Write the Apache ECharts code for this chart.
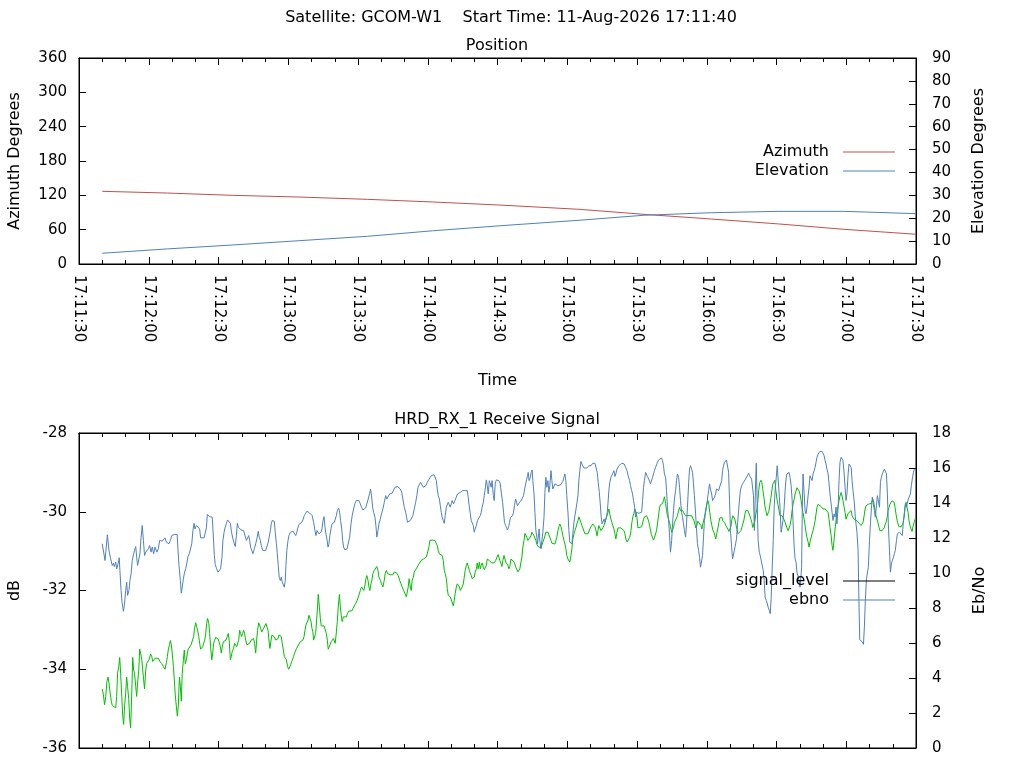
<!DOCTYPE html>
<html><head><meta charset="utf-8">
<script src="https://cdn.jsdelivr.net/npm/echarts/dist/echarts.min.js"></script>
<style>html,body{margin:0;padding:0;background:#fff}#c{width:1024px;height:768px}</style>
</head><body><div id="c"></div>
<script>
// ---------------- data ----------------
const mainTitle = 'Satellite: GCOM-W1    Start Time: 11-Aug-2026 17:11:40';
const posTitle = 'Position';
const sigTitle = 'HRD_RX_1 Receive Signal';
const axisStart = '17:11:30';
const axisEnd = '17:17:30';

const posTimes = ['17:11:40','17:12:08','17:12:36','17:13:05','17:13:34','17:14:02','17:14:31','17:15:05','17:15:33','17:16:02','17:16:31','17:16:59','17:17:30'];
const azimuth = [127,124,120,117,113,108.4,103,95.6,86.8,78.6,70,60.6,52];
const elevation = [4.7,6.6,8.3,10.2,12.1,14.5,16.7,19.1,21.3,22.4,23.0,23.0,22.0];

// [seconds after 17:11:30, dB]
const signalLevel = [
[10.0,-34.50],[10.5,-34.65],[11.0,-34.90],[11.5,-34.69],[12.0,-34.31],[12.5,-34.20],[12.9,-34.35],[13.5,-34.65],[13.9,-34.81],[14.3,-34.92],[15.1,-34.92],[15.8,-34.98],[16.2,-34.69],[16.6,-34.10],[17.1,-33.93],[17.5,-33.70],[17.9,-34.10],[18.4,-34.69],[18.8,-35.18],[19.2,-35.40],[19.6,-34.94],[20.1,-34.60],[20.5,-34.20],[20.9,-34.44],[21.4,-34.77],[21.8,-35.24],[22.2,-35.49],[22.7,-34.60],[23.1,-33.70],[23.5,-34.02],[23.9,-34.10],[24.4,-34.44],[24.8,-34.69],[25.2,-34.35],[25.7,-34.02],[26.1,-33.49],[26.5,-33.59],[27.0,-33.76],[27.4,-34.02],[27.8,-34.27],[28.2,-34.50],[28.7,-34.02],[29.1,-33.85],[29.5,-33.80],[30.1,-33.76],[30.8,-33.61],[31.3,-33.68],[31.7,-33.80],[32.1,-33.76],[32.7,-33.72],[33.4,-33.70],[34.1,-33.72],[34.8,-33.80],[35.6,-33.86],[36.3,-33.93],[37.0,-34.00],[37.6,-33.83],[38.0,-33.68],[38.4,-33.51],[38.9,-33.38],[39.3,-33.27],[39.7,-33.38],[40.1,-33.59],[40.6,-33.93],[41.0,-34.27],[41.4,-34.65],[41.9,-34.96],[42.3,-35.19],[42.7,-34.94],[43.2,-34.20],[43.6,-34.44],[44.0,-34.81],[44.4,-34.10],[44.9,-33.76],[45.3,-33.51],[45.7,-33.86],[46.2,-33.76],[46.6,-33.59],[47.0,-33.49],[47.6,-33.44],[48.2,-33.38],[48.7,-33.34],[49.3,-33.17],[49.7,-32.96],[50.2,-32.82],[50.6,-32.92],[51.0,-33.01],[51.5,-33.17],[51.9,-33.34],[52.3,-33.49],[52.8,-33.49],[53.2,-33.43],[53.6,-33.34],[54.1,-33.26],[54.5,-33.09],[54.9,-32.84],[55.3,-32.71],[55.8,-32.82],[56.2,-33.09],[56.6,-33.43],[57.1,-33.76],[57.5,-33.59],[57.9,-33.34],[58.4,-33.26],[58.8,-33.19],[59.4,-33.19],[59.9,-33.24],
[60.2,-33.30],[60.8,-33.43],[61.2,-33.59],[61.6,-33.43],[62.1,-33.30],[62.6,-33.30],[63.2,-33.26],[63.8,-33.17],[64.2,-33.09],[64.6,-33.26],[65.1,-33.76],[65.5,-33.68],[65.9,-33.55],[66.5,-33.47],[66.9,-33.34],[67.4,-33.30],[67.8,-33.43],[68.2,-33.47],[68.7,-33.26],[69.1,-33.01],[69.5,-33.09],[69.9,-33.17],[70.4,-33.09],[70.8,-33.01],[71.2,-33.09],[71.7,-33.26],[72.2,-33.38],[72.8,-33.38],[73.4,-33.34],[74.0,-33.26],[74.5,-33.22],[75.1,-33.22],[75.5,-33.34],[76.0,-33.59],[76.4,-33.26],[76.8,-33.01],[77.3,-32.82],[77.7,-32.88],[78.1,-32.96],[78.6,-33.05],[79.0,-33.09],[79.4,-32.96],[79.8,-32.92],[80.4,-32.84],[80.8,-32.88],[81.3,-33.01],[81.7,-33.26],[82.1,-33.47],[82.6,-33.26],[83.0,-33.13],[83.4,-33.09],[83.9,-33.17],[84.3,-33.22],[84.7,-33.26],[85.1,-33.30],[85.6,-33.22],[86.0,-33.13],[86.6,-33.09],[87.0,-33.17],[87.4,-33.34],[87.9,-33.51],[88.3,-33.68],[88.7,-33.72],[89.2,-33.76],[89.7,-33.93],[90.2,-34.00],[90.6,-33.95],[91.0,-33.89],[91.5,-33.80],[91.9,-33.76],[92.3,-33.68],[92.7,-33.59],[93.2,-33.55],[93.6,-33.47],[94.0,-33.43],[94.6,-33.36],[95.2,-33.30],[95.8,-33.30],[96.3,-33.26],[96.8,-33.17],[97.2,-33.01],[97.6,-32.88],[98.0,-32.84],[98.5,-32.75],[98.9,-32.63],[99.3,-32.67],[99.8,-32.79],[100.2,-32.96],[100.6,-33.05],[100.9,-33.26],[101.3,-33.30],[101.8,-33.09],[102.2,-32.75],[102.6,-32.42],[102.9,-32.10],[103.4,-32.42],[103.8,-32.71],[104.2,-32.90],[104.8,-32.90],[105.4,-32.90],[105.9,-32.92],[106.4,-33.09],[106.8,-33.26],[107.2,-33.49],[107.7,-33.49],[108.1,-33.36],[108.5,-33.30],[108.9,-33.26],[109.4,-33.22],[109.8,-33.26],[110.2,-33.34],[110.7,-33.05],[111.1,-32.79],[111.5,-32.42],[112.0,-32.10],[112.4,-32.42],[112.8,-32.63],[113.2,-32.79],[113.7,-32.67],[114.1,-32.63],[114.5,-32.67],[115.0,-32.67],[115.5,-32.58],[116.1,-32.52],[116.7,-32.52],[117.3,-32.52],[117.8,-32.46],[118.4,-32.42],[119.0,-32.33],[119.6,-32.26],[120.1,-32.26],
[120.4,-32.21],[121.0,-32.00],[121.5,-31.91],[122.1,-31.89],[122.5,-32.00],[123.0,-31.87],[123.4,-31.70],[123.8,-31.62],[124.3,-31.74],[124.7,-31.91],[125.1,-32.00],[125.6,-31.83],[126.0,-31.74],[126.4,-31.57],[127.0,-31.49],[127.6,-31.45],[128.1,-31.39],[128.6,-31.49],[129.0,-31.66],[129.6,-31.74],[130.1,-31.83],[130.7,-31.91],[131.3,-31.74],[131.7,-31.57],[132.2,-31.49],[132.7,-31.57],[133.3,-31.62],[133.9,-31.60],[134.5,-31.62],[135.0,-31.60],[135.6,-31.53],[136.2,-31.51],[136.7,-31.56],[137.3,-31.62],[137.9,-31.74],[138.5,-31.83],[139.0,-31.91],[139.6,-32.00],[140.2,-32.08],[140.8,-32.16],[141.2,-32.21],[141.6,-31.91],[142.0,-31.70],[142.5,-31.91],[142.9,-32.00],[143.3,-31.74],[143.8,-31.66],[144.2,-31.53],[144.8,-31.47],[145.3,-31.45],[145.9,-31.36],[146.5,-31.32],[147.1,-31.24],[147.6,-31.20],[148.2,-31.20],[148.8,-31.17],[149.4,-31.15],[149.9,-31.11],[150.5,-30.90],[150.9,-30.73],[151.4,-30.72],[152.0,-30.72],[152.5,-30.72],[153.1,-30.73],[153.7,-30.77],[154.1,-30.86],[154.5,-30.98],[155.0,-31.07],[155.4,-31.09],[155.8,-31.11],[156.2,-31.11],[156.7,-31.24],[157.1,-31.49],[157.5,-31.57],[158.0,-31.70],[158.4,-31.95],[158.8,-32.12],[159.3,-32.16],[159.7,-32.16],[160.1,-32.21],[160.5,-32.16],[161.0,-32.39],[161.4,-32.25],[161.8,-32.08],[162.3,-31.91],[162.7,-31.83],[163.1,-31.81],[163.6,-31.91],[164.0,-32.00],[164.4,-31.95],[164.8,-31.91],[165.3,-31.83],[165.7,-31.66],[166.1,-31.49],[166.6,-31.36],[167.0,-31.30],[167.4,-31.39],[167.9,-31.49],[168.3,-31.56],[168.7,-31.62],[169.1,-31.70],[169.6,-31.70],[170.0,-31.66],[170.4,-31.53],[170.9,-31.45],[171.3,-31.30],[171.7,-31.45],[172.2,-31.28],[172.6,-31.45],[173.0,-31.36],[173.4,-31.30],[173.9,-31.41],[174.3,-31.47],[174.7,-31.49],[175.2,-31.36],[175.6,-31.20],[176.0,-31.20],[176.5,-31.24],[176.9,-31.28],[177.5,-31.30],[178.0,-31.30],[178.6,-31.30],[179.2,-31.24],[179.8,-31.15],[180.3,-31.09],
[180.6,-31.14],[181.0,-31.24],[181.5,-31.32],[181.9,-31.39],[182.3,-31.24],[182.8,-31.11],[183.2,-31.20],[183.6,-31.28],[184.0,-31.32],[184.5,-31.36],[184.9,-31.45],[185.3,-31.39],[185.8,-31.20],[186.2,-31.20],[186.6,-31.24],[187.1,-31.28],[187.5,-31.34],[187.9,-31.41],[188.3,-31.45],[188.8,-31.53],[189.2,-31.57],[189.6,-31.45],[190.1,-31.28],[190.5,-31.15],[190.9,-30.90],[191.4,-30.73],[191.8,-30.55],[192.2,-30.52],[192.6,-30.65],[193.1,-30.73],[193.5,-30.77],[193.9,-30.69],[194.4,-30.61],[194.8,-30.52],[195.2,-30.55],[195.7,-30.61],[196.1,-30.65],[196.5,-30.73],[196.9,-30.82],[197.4,-30.88],[197.8,-30.90],[198.2,-30.92],[198.7,-30.92],[199.1,-30.88],[199.5,-30.77],[200.0,-30.69],[200.4,-30.61],[200.8,-30.52],[201.2,-30.51],[201.7,-30.52],[202.1,-30.56],[202.5,-30.65],[203.0,-30.73],[203.4,-30.80],[203.8,-30.82],[204.7,-30.82],[205.1,-30.77],[205.5,-30.65],[206.0,-30.48],[206.4,-30.38],[206.8,-30.31],[207.3,-30.38],[207.7,-30.48],[208.1,-30.61],[208.6,-30.73],[209.0,-30.82],[209.4,-30.94],[209.8,-31.11],[210.3,-31.20],[210.7,-31.25],[211.1,-31.28],[211.6,-31.11],[212.0,-30.94],[212.4,-30.69],[212.9,-30.56],[213.3,-30.48],[213.7,-30.41],[214.1,-30.31],[214.6,-30.23],[215.0,-30.13],[215.4,-30.14],[215.9,-30.27],[216.3,-30.35],[216.7,-30.41],[217.2,-30.46],[217.6,-30.56],[218.0,-30.61],[218.4,-30.61],[218.9,-30.56],[219.3,-30.52],[219.7,-30.44],[220.2,-30.38],[220.6,-30.35],[221.0,-30.31],[221.5,-30.33],[221.9,-30.38],[222.3,-30.46],[222.8,-30.61],[223.2,-30.48],[223.6,-30.35],[224.0,-30.40],[224.5,-30.48],[224.9,-30.46],[225.3,-30.41],[225.8,-30.35],[226.2,-30.27],[226.6,-30.19],[227.1,-30.10],[227.5,-30.02],[227.9,-29.93],[228.3,-30.06],[228.8,-30.19],[229.2,-30.27],[229.6,-30.35],[230.1,-30.44],[230.5,-30.56],[230.9,-30.69],[231.4,-30.52],[231.8,-30.41],[232.2,-30.40],[233.1,-30.41],[233.9,-30.44],[234.4,-30.48],[234.8,-30.56],[235.2,-30.69],[235.7,-30.77],[236.1,-30.82],[236.5,-30.73],[236.9,-30.65],[237.4,-30.48],[237.8,-30.27],[238.2,-30.13],[238.7,-30.04],[239.1,-29.93],[239.5,-30.02],[240.0,-30.14],[240.4,-30.41],[240.8,-30.41],
[242.0,-30.38],[242.4,-30.29],[242.8,-30.19],[243.2,-30.13],[244.1,-30.10],[244.5,-30.14],[245.0,-30.23],[245.4,-30.35],[245.8,-30.46],[246.2,-30.58],[246.7,-30.66],[247.1,-30.72],[247.5,-30.66],[248.0,-30.61],[248.4,-30.48],[248.8,-30.31],[249.3,-30.08],[249.7,-29.89],[250.1,-29.82],[250.5,-29.85],[251.0,-29.79],[251.4,-29.71],[251.8,-29.62],[252.3,-29.79],[252.7,-29.97],[253.1,-30.10],[253.6,-30.19],[254.0,-30.27],[254.4,-30.38],[254.9,-30.52],[255.3,-30.48],[255.7,-30.40],[256.1,-30.27],[256.6,-30.23],[257.0,-30.16],[257.4,-30.10],[257.9,-29.97],[258.3,-29.89],[258.7,-29.97],[259.2,-29.93],[259.6,-29.96],[260.0,-30.02],[260.4,-30.04],[260.9,-30.10],[263.5,-30.10],[264.0,-30.13],[264.5,-30.23],[264.9,-30.31],[265.3,-30.41],[265.7,-30.35],[266.2,-30.24],[266.6,-30.19],[267.0,-30.27],[267.5,-30.35],[267.9,-30.44],[268.3,-30.31],[268.8,-30.19],[269.2,-30.08],[269.6,-29.93],[270.0,-29.81],[270.5,-29.72],[270.9,-29.81],[271.3,-30.02],[271.8,-30.23],[272.2,-30.35],[272.6,-30.46],[273.1,-30.52],[273.5,-30.61],[273.9,-30.69],[274.3,-30.56],[274.8,-30.41],[275.2,-30.27],[275.6,-30.16],[276.1,-30.13],[276.5,-30.14],[276.9,-30.23],[277.4,-30.27],[277.8,-30.29],[278.2,-30.35],[278.6,-30.40],[279.1,-30.44],[279.5,-30.50],[279.9,-30.48],[280.4,-30.38],[280.8,-30.19],[281.2,-30.10],[281.7,-30.13],[282.1,-30.19],[282.5,-30.31],[283.0,-30.44],[283.4,-30.56],[283.8,-30.61],[284.2,-30.56],[284.7,-30.48],[285.1,-30.40],[285.5,-30.31],[286.0,-30.21],[286.4,-30.06],[286.8,-29.97],[287.3,-29.93],[287.7,-29.97],[288.1,-30.02],[288.5,-30.10],[289.0,-30.19],[289.4,-30.27],[289.8,-30.40],[290.3,-30.44],[290.7,-30.23],[291.1,-30.06],[291.6,-29.93],[292.0,-29.72],[292.4,-29.43],[292.8,-29.26],[293.3,-29.20],[293.7,-29.26],[294.1,-29.43],[294.6,-29.64],[295.0,-29.85],[295.4,-29.97],[295.9,-30.10],[296.3,-30.08],[296.7,-29.99],[297.1,-29.85],[297.6,-29.64],[298.0,-29.47],[298.4,-29.30],[298.9,-29.26],[299.3,-29.20],[299.7,-29.45],[300.2,-29.68],[300.6,-29.81],[301.0,-29.93],
[301.5,-30.10],[302.4,-30.10],[302.8,-30.14],[303.3,-30.21],[303.7,-30.27],[304.1,-30.31],[304.5,-30.41],[305.0,-30.48],[305.4,-30.44],[305.8,-30.35],[306.3,-30.19],[306.7,-29.97],[307.1,-29.81],[307.6,-29.68],[308.0,-29.55],[308.4,-29.47],[308.8,-29.39],[309.3,-29.43],[309.7,-29.47],[310.1,-29.55],[310.6,-29.72],[311.0,-29.89],[311.4,-30.02],[311.9,-30.19],[312.3,-30.35],[312.7,-30.52],[313.1,-30.65],[313.6,-30.77],[314.0,-30.90],[314.4,-30.77],[314.9,-30.65],[315.3,-30.56],[315.7,-30.48],[316.2,-30.35],[316.6,-30.23],[317.0,-30.06],[317.4,-29.89],[317.9,-29.81],[318.3,-29.81],[318.7,-29.85],[319.2,-29.87],[319.6,-29.89],[320.0,-29.93],[320.5,-29.97],[320.9,-29.93],[321.3,-29.89],[321.7,-29.93],[322.2,-30.02],[322.6,-30.19],[323.0,-30.40],[323.5,-30.61],[323.9,-30.86],[324.3,-30.98],[324.8,-30.69],[325.2,-30.44],[325.6,-30.23],[326.0,-30.02],[326.5,-29.85],[326.9,-29.72],[327.3,-29.60],[327.8,-29.51],[328.2,-29.60],[328.6,-29.72],[329.1,-29.89],[329.5,-30.02],[329.9,-30.19],[330.3,-30.14],[330.8,-30.04],[331.2,-30.02],[331.6,-29.99],[332.1,-29.97],[332.5,-30.10],[332.9,-30.06],[333.4,-30.19],[333.8,-30.23],[334.6,-30.23],[335.1,-30.27],[335.5,-30.29],[335.9,-30.33],[336.4,-30.35],[336.8,-30.35],[337.2,-30.27],[337.7,-30.10],[338.1,-29.93],[338.5,-29.85],[338.9,-29.81],[339.4,-29.81],[339.8,-29.85],[340.2,-29.82],[340.7,-29.79],[341.1,-29.74],[341.5,-29.68],[342.0,-29.81],[342.4,-29.97],[342.8,-30.10],[343.3,-30.21],[343.7,-30.29],[344.1,-30.40],[344.5,-30.48],[345.0,-30.50],[345.4,-30.48],[345.8,-30.46],[346.3,-30.41],[346.7,-30.33],[347.1,-30.27],[347.6,-30.14],[348.0,-29.97],[348.4,-29.89],[348.8,-29.81],[349.3,-29.76],[349.7,-29.72],[350.1,-29.71],[350.6,-29.76],[351.0,-29.89],[351.4,-30.06],[351.9,-30.23],[352.3,-30.31],[352.7,-30.38],[353.6,-30.38],[354.0,-30.35],[354.4,-30.29],[354.9,-30.14],[355.3,-29.89],[355.7,-29.76],[356.2,-29.79],[356.6,-30.02],[357.0,-30.23],[357.4,-30.35],[357.9,-30.44],[358.3,-30.50],[358.7,-30.38],[359.2,-30.27],[359.6,-30.19],[360.0,-30.16]
];

// [seconds after 17:11:30, Eb/No]
const ebno = [
[10.0,11.67],[11.2,10.71],[12.2,12.18],[12.9,11.29],[13.6,10.81],[14.3,10.43],[14.8,10.56],[15.2,10.37],[15.8,10.62],[16.2,10.24],[16.8,10.52],[17.3,10.87],[17.6,10.14],[18.1,9.00],[18.5,8.34],[19.1,7.81],[19.5,8.15],[20.1,9.00],[20.5,9.48],[20.9,8.72],[21.5,9.00],[21.9,9.57],[22.4,9.95],[22.9,10.71],[23.5,11.10],[23.9,11.29],[24.4,11.51],[24.8,10.90],[25.2,10.43],[25.8,10.43],[26.2,11.10],[26.7,12.05],[27.2,12.71],[27.7,11.86],[28.2,11.00],[28.7,11.19],[29.2,11.29],[29.8,11.38],[30.4,11.57],[31.0,11.19],[31.5,11.48],[32.1,11.10],[32.7,11.48],[33.1,11.57],[33.5,11.19],[34.1,11.38],[34.7,11.86],[35.3,11.89],[35.8,11.82],[36.4,11.86],[37.0,12.01],[37.6,11.76],[38.1,11.67],[38.7,11.67],[39.3,11.86],[39.9,12.14],[40.4,12.24],[41.0,12.20],[41.6,12.27],[42.2,12.20],[42.6,11.29],[43.0,10.43],[43.6,9.57],[44.0,8.85],[44.4,9.19],[44.9,9.67],[45.4,10.05],[45.9,10.24],[46.3,10.52],[46.9,10.94],[47.5,11.13],[48.0,11.19],[48.5,11.67],[49.0,12.43],[49.5,12.84],[49.9,12.52],[50.5,12.71],[50.9,12.62],[51.3,12.81],[51.9,12.52],[52.3,12.01],[53.0,12.01],[53.8,12.01],[54.3,12.05],[54.8,12.58],[55.2,13.34],[55.6,13.38],[56.2,13.22],[56.8,13.19],[57.3,13.19],[57.8,12.05],[58.2,11.00],[58.6,10.49],[59.2,10.24],[59.8,10.05],
[60.2,9.95],[60.9,10.24],[61.5,10.90],[61.9,11.86],[62.4,12.33],[62.8,12.58],[63.4,12.84],[63.9,13.03],[64.5,13.03],[65.1,12.84],[65.6,12.33],[66.2,11.95],[66.8,11.67],[67.2,11.51],[67.7,12.14],[68.1,12.84],[68.5,12.62],[69.1,12.52],[69.7,12.46],[70.2,12.46],[70.8,12.43],[71.4,12.33],[72.0,11.86],[72.5,11.95],[73.0,12.14],[73.4,11.86],[73.8,11.48],[74.3,11.29],[74.8,11.10],[75.4,11.38],[76.0,11.67],[76.5,11.95],[77.1,12.39],[77.5,12.05],[78.0,11.86],[78.4,11.57],[79.0,11.29],[79.6,11.29],[80.3,11.29],[81.0,11.29],[81.4,11.76],[81.8,12.05],[82.3,12.43],[82.7,12.81],[83.1,13.00],[83.6,13.03],[84.0,12.96],[84.4,12.33],[84.9,11.67],[85.3,11.10],[85.7,10.43],[86.1,9.76],[86.6,9.57],[87.0,9.76],[87.4,9.48],[87.9,9.57],[88.3,9.19],[88.7,9.57],[89.0,10.43],[89.4,11.29],[89.9,11.86],[90.3,12.14],[90.9,12.33],[91.5,12.43],[92.0,12.39],[92.6,12.33],[93.2,12.14],[93.6,12.27],[94.0,12.52],[94.6,12.77],[95.2,12.86],[95.8,12.90],[96.3,13.03],[96.9,13.28],[97.5,13.41],[98.0,13.53],[98.6,13.43],[99.2,13.43],[99.8,13.41],[100.3,13.28],[100.9,12.90],[101.5,12.43],[101.9,12.14],[102.4,12.43],[102.8,12.46],[103.2,12.24],[103.6,12.18],[104.1,12.33],[104.5,12.52],[104.9,12.96],[105.4,13.22],[105.8,12.62],[106.2,12.24],[106.7,11.89],[107.1,11.48],[107.5,11.67],[107.9,12.14],[108.4,12.52],[108.8,12.81],[109.2,12.84],[109.8,12.90],[110.2,13.00],[110.7,13.28],[111.1,13.57],[111.7,13.70],[112.1,13.47],[112.5,13.00],[113.0,12.52],[113.4,11.86],[113.8,11.48],[114.4,11.32],[114.8,11.29],[115.3,11.38],[115.8,11.48],[116.4,12.05],[117.0,12.81],[117.5,13.28],[118.1,13.66],[118.7,13.98],[119.3,14.14],[119.8,14.17],
[120.4,14.14],[121.0,13.95],[121.5,13.76],[122.1,13.60],[122.7,13.60],[123.3,13.72],[123.8,13.95],[124.4,14.23],[125.0,14.56],[125.4,14.80],[125.8,14.42],[126.3,13.76],[126.7,13.47],[127.3,13.19],[127.7,12.71],[128.1,12.05],[128.6,12.43],[129.0,12.81],[129.6,13.09],[130.1,13.38],[130.7,13.66],[131.3,14.04],[131.9,14.42],[132.4,14.23],[133.0,14.33],[133.6,14.52],[134.2,14.61],[134.7,14.56],[135.3,14.61],[135.9,14.90],[136.5,14.94],[137.0,14.94],[137.6,14.90],[138.2,14.80],[138.8,14.61],[139.3,14.23],[139.9,13.76],[140.5,13.47],[140.9,13.19],[141.3,12.90],[141.9,12.94],[142.5,13.00],[143.1,13.00],[143.6,13.28],[144.2,13.66],[144.8,14.04],[145.3,14.42],[145.8,14.90],[146.3,14.99],[146.9,15.18],[147.5,15.09],[148.1,14.90],[148.6,14.90],[149.2,14.99],[149.8,15.18],[150.4,15.32],[150.9,15.37],[151.5,15.56],[152.1,15.66],[152.7,15.62],[153.2,15.62],[153.7,15.28],[154.1,14.80],[154.5,14.42],[155.0,14.23],[155.4,13.85],[155.8,13.47],[156.2,13.19],[156.7,13.00],[157.1,12.84],[157.5,13.28],[158.0,13.76],[158.4,13.85],[158.8,14.04],[159.3,13.95],[159.7,13.76],[160.1,13.95],[160.5,14.14],[161.1,13.95],[161.7,14.14],[162.3,14.23],[162.8,14.52],[163.4,14.61],[164.0,14.61],[164.6,14.71],[165.1,14.71],[165.6,14.80],[166.1,14.71],[166.6,14.61],[167.0,14.71],[167.4,14.33],[167.9,13.76],[168.3,13.38],[168.7,13.00],[169.1,12.94],[169.6,12.71],[170.0,12.33],[170.4,12.52],[170.9,12.71],[171.4,13.00],[172.0,13.00],[172.6,13.28],[173.0,13.47],[173.4,13.76],[173.9,14.04],[174.3,14.42],[174.7,14.80],[175.2,15.32],[175.6,14.99],[176.0,14.52],[176.5,15.28],[176.9,15.24],[177.3,14.90],[177.7,15.28],[178.2,14.42],[178.6,14.14],[179.0,15.09],[179.5,15.32],[180.0,15.32],
[180.6,15.28],[181.2,15.09],[181.7,14.52],[182.2,14.04],[182.6,13.47],[183.0,12.90],[183.5,12.71],[183.9,12.58],[184.3,12.46],[184.8,12.65],[185.2,12.90],[185.6,13.19],[186.1,13.28],[186.5,13.28],[186.9,13.47],[187.3,13.85],[187.8,14.23],[188.2,14.04],[188.6,13.85],[189.1,13.95],[189.5,14.04],[189.9,14.10],[190.3,14.17],[190.8,14.23],[191.2,14.42],[191.6,14.75],[192.1,15.09],[192.5,15.32],[192.9,15.56],[193.2,15.75],[193.6,15.28],[194.1,15.47],[194.5,15.75],[194.9,15.89],[195.2,15.28],[195.7,14.52],[196.1,13.47],[196.5,12.43],[196.9,12.05],[197.2,11.67],[197.7,12.24],[197.9,12.52],[198.2,11.86],[198.7,11.38],[199.1,11.48],[199.5,12.33],[200.0,13.19],[200.4,14.61],[200.8,15.47],[201.2,14.90],[201.7,15.28],[202.1,14.61],[202.5,14.99],[203.0,15.85],[203.4,15.28],[203.8,14.80],[204.3,14.90],[204.7,15.09],[205.1,15.09],[205.5,15.09],[206.0,14.99],[206.4,14.90],[206.8,14.99],[207.3,15.05],[207.7,15.09],[208.1,15.24],[208.6,15.47],[209.0,15.66],[209.4,15.28],[209.8,14.42],[210.3,13.47],[210.7,12.43],[211.1,11.76],[211.6,11.67],[212.0,11.67],[212.4,12.24],[212.9,12.90],[213.3,13.28],[213.7,13.60],[214.1,13.95],[214.6,14.42],[215.0,15.28],[215.4,15.85],[215.9,16.38],[216.3,16.23],[216.7,16.13],[217.2,16.00],[217.6,15.94],[218.0,15.89],[218.4,16.00],[218.9,16.08],[219.3,16.13],[220.2,16.13],[221.0,16.27],[221.9,16.27],[222.5,16.23],[222.9,15.75],[223.3,15.18],[223.8,14.61],[224.2,13.95],[224.6,13.19],[225.0,12.81],[225.5,12.71],[225.9,13.09],[226.3,12.90],[226.8,13.19],[227.2,13.47],[227.5,13.95],[227.9,14.71],[228.3,15.18],[228.8,15.47],[229.2,15.56],[229.6,15.70],[230.1,15.85],[230.5,15.51],[230.9,15.66],[231.4,15.94],[231.8,16.04],[232.2,16.13],[232.8,16.23],[233.4,16.27],[233.9,16.27],[234.5,16.23],[235.1,16.04],[235.7,15.85],[236.2,15.56],[236.8,15.28],[237.2,14.99],[237.7,14.71],[238.1,14.52],[238.5,14.14],[239.0,13.76],[239.4,13.19],[239.8,13.47],[240.2,13.47],[240.8,13.41],
[241.4,13.34],[242.0,13.47],[242.4,14.14],[242.8,14.90],[243.2,15.28],[243.7,15.75],[244.1,15.66],[244.5,15.51],[245.0,15.37],[245.4,15.24],[245.8,15.09],[246.2,15.18],[246.7,15.47],[247.1,15.66],[247.5,15.85],[248.0,16.04],[248.4,16.13],[248.8,16.32],[249.3,16.46],[249.7,16.57],[250.5,16.57],[251.0,16.42],[251.4,16.13],[251.8,15.66],[252.3,15.47],[252.7,14.71],[253.1,13.76],[253.6,13.00],[254.0,12.14],[254.4,11.19],[254.9,11.86],[255.3,12.81],[255.7,13.57],[256.1,14.23],[256.6,14.71],[257.0,15.28],[257.4,15.66],[257.9,15.47],[258.3,14.90],[258.7,14.14],[259.2,13.47],[259.6,13.19],[260.0,12.81],[260.4,12.43],[260.9,12.05],[261.3,12.81],[261.7,13.76],[262.2,15.09],[262.6,15.94],[263.0,16.13],[263.5,15.94],[263.9,15.75],[264.3,15.09],[264.7,14.42],[265.2,13.38],[265.6,12.52],[266.0,11.67],[266.5,11.29],[266.9,10.90],[267.3,10.33],[267.8,10.43],[268.2,11.00],[268.6,12.05],[269.0,13.00],[269.5,13.47],[269.9,13.76],[270.3,14.23],[270.8,14.71],[271.2,15.09],[271.6,14.80],[272.1,14.52],[272.5,14.14],[272.9,14.04],[273.3,14.33],[273.8,14.52],[274.2,14.80],[274.6,14.80],[275.1,14.71],[275.5,14.61],[275.9,14.71],[276.4,15.28],[276.8,15.85],[277.2,16.13],[277.6,16.32],[278.1,16.42],[278.5,16.46],[278.9,16.51],[279.4,15.75],[279.8,14.14],[280.2,12.43],[280.7,11.48],[281.1,10.81],[281.5,10.90],[281.9,11.29],[282.4,11.67],[282.8,11.95],[283.2,12.71],[283.7,13.57],[284.1,14.23],[284.5,14.75],[285.0,14.99],[285.4,15.09],[285.8,15.18],[286.2,15.24],[286.7,15.37],[287.1,15.43],[287.5,15.47],[288.0,15.70],[288.4,15.56],[288.8,15.51],[289.3,15.37],[289.7,15.28],[290.1,14.42],[290.5,12.43],[291.0,15.09],[291.3,16.27],[291.7,13.95],[292.1,11.86],[292.6,11.19],[293.0,11.00],[293.8,11.00],[294.3,10.14],[294.7,9.57],[295.1,8.62],[295.6,8.43],[296.0,8.28],[296.4,8.05],[296.9,7.86],[297.3,7.67],[297.7,8.53],[298.1,10.14],[298.6,11.86],[299.0,13.76],[299.4,14.71],[299.9,15.47],[300.3,16.13],[300.7,16.13],
[301.1,14.61],[301.5,13.76],[302.0,12.33],[302.4,12.43],[302.8,13.00],[303.3,13.76],[303.7,14.71],[304.1,15.37],[304.5,15.66],[305.0,15.75],[305.4,15.75],[305.8,15.47],[306.3,14.99],[306.7,14.23],[307.1,13.00],[307.6,11.48],[308.0,10.81],[308.4,10.62],[308.8,10.05],[309.3,9.95],[309.7,9.57],[310.1,9.19],[310.6,9.95],[310.8,10.33],[311.1,13.76],[311.4,15.66],[311.9,14.52],[312.3,13.57],[312.7,13.38],[313.1,13.76],[313.6,14.42],[314.0,14.90],[314.4,15.56],[314.9,15.66],[315.3,15.28],[315.7,15.66],[316.2,15.85],[316.6,16.04],[317.0,16.32],[317.4,16.61],[317.9,16.80],[318.3,16.89],[318.7,16.95],[319.2,16.99],[319.6,16.95],[320.0,16.89],[320.5,16.70],[320.9,16.42],[321.3,16.23],[321.7,15.94],[322.2,15.66],[322.6,15.09],[323.0,14.52],[323.5,13.95],[323.9,13.47],[324.3,13.00],[324.8,13.38],[325.2,13.19],[325.6,13.76],[326.0,12.81],[326.5,13.76],[326.9,15.28],[327.3,16.32],[327.8,16.61],[328.2,16.70],[328.6,16.42],[329.1,15.66],[329.5,14.90],[329.9,14.14],[330.3,14.52],[330.8,15.66],[331.2,16.23],[331.6,16.13],[332.1,16.04],[332.5,15.28],[332.9,14.71],[333.4,14.14],[333.8,13.38],[334.2,12.81],[334.6,12.33],[335.1,11.29],[335.5,8.05],[335.8,6.19],[336.4,6.15],[336.9,6.06],[337.4,5.92],[337.8,6.91],[338.2,8.43],[338.7,9.67],[339.1,9.73],[339.5,10.33],[340.0,11.86],[340.4,12.81],[340.8,13.66],[341.2,14.33],[341.7,14.23],[342.1,13.57],[342.5,13.19],[343.0,13.85],[343.4,14.42],[343.8,14.52],[344.3,13.76],[344.7,15.18],[345.1,15.47],[345.5,15.66],[346.0,15.75],[346.4,15.94],[346.8,16.00],[347.3,15.66],[347.7,14.52],[348.1,12.81],[348.6,11.29],[349.0,10.05],[349.4,10.52],[349.8,10.71],[350.3,10.90],[350.7,11.10],[351.1,11.29],[351.6,11.86],[352.0,12.24],[352.4,12.27],[352.9,12.33],[353.3,12.27],[353.7,12.24],[354.1,12.14],[354.6,13.00],[355.0,13.47],[355.4,13.95],[355.9,13.76],[356.3,13.66],[356.7,14.23],[357.2,14.23],[357.6,14.52],[358.0,14.99],[358.4,15.37],[358.9,15.75],[359.3,15.94],[359.7,15.94]
];

// ---------------- helpers ----------------
const FONT = 'DejaVu Sans';
const RED = '#c0504d', BLUE = '#4f81bd', GREEN = '#00c000';
function toSec(s){const p=s.split(':').map(Number);return p[0]*3600+p[1]*60+p[2];}
const base = toSec(axisStart), span = toSec(axisEnd) - base;
function fmt(v){const t=base+Math.round(v);const h=Math.floor(t/3600),m=Math.floor(t%3600/60),s=t%60;
  return String(h).padStart(2,'0')+':'+String(m).padStart(2,'0')+':'+String(s).padStart(2,'0');}
const azData = posTimes.map((t,i)=>[toSec(t)-base, azimuth[i]]);
const elData = posTimes.map((t,i)=>[toSec(t)-base, elevation[i]]);

const tickLab = {color:'#000', fontSize:15, fontFamily:FONT};
function xAx(grid, pos, labels, name){
  return {type:'value', gridIndex:grid, position:pos, min:0, max:span, interval:30,
    name: name||'', nameLocation:'middle', nameGap:109, nameTextStyle:{color:'#000',fontSize:16,fontFamily:FONT},
    axisLine:{show:true, onZero:false, lineStyle:{color:'#000',width:1}},
    axisTick:{show:true, inside:true, length:7, lineStyle:{color:'#000',width:1}},
    minorTick:{show:true, splitNumber:3, length:4, lineStyle:{color:'#000',width:1}},
    splitLine:{show:false}, minorSplitLine:{show:false},
    axisLabel:Object.assign({show:labels, rotate:-90, margin:11, formatter:fmt, showMinLabel:true, showMaxLabel:true}, tickLab)};
}
function yAx(grid, pos, min, max, interval, name, gap, margin){
  return {type:'value', gridIndex:grid, position:pos, min, max, interval,
    name, nameLocation:'middle', nameRotate:90, nameGap:gap, nameTextStyle:{color:'#000',fontSize:16,fontFamily:FONT},
    axisLine:{show:true, onZero:false, lineStyle:{color:'#000',width:1}},
    axisTick:{show:true, inside:true, length:7, lineStyle:{color:'#000',width:1}},
    splitLine:{show:false},
    axisLabel:Object.assign({margin}, tickLab)};
}
function line(name, xi, yi, data, color){
  return {type:'line', name, xAxisIndex:xi, yAxisIndex:yi, data, symbol:'none', showSymbol:false,
    lineStyle:{color, width:1}, itemStyle:{color}, silent:true};
}
const legendBase = {orient:'vertical', right:124, align:'right', icon:'rect', itemWidth:52, itemHeight:1, itemGap:3,
  selectedMode:false, textStyle:{color:'#000', fontSize:16, fontFamily:FONT, padding:[0,9,0,0]}};

const chart = echarts.init(document.getElementById('c'), null, {renderer:'canvas'});
chart.setOption({
  animation:false,
  backgroundColor:'#fff',
  graphic:[
    {type:'text', x:511, y:18, style:{text:mainTitle, fill:'#000', font:'16px "DejaVu Sans"', align:'center', verticalAlign:'middle'}},
    {type:'text', x:497, y:46, style:{text:posTitle, fill:'#000', font:'16px "DejaVu Sans"', align:'center', verticalAlign:'middle'}},
    {type:'text', x:497, y:420, style:{text:sigTitle, fill:'#000', font:'16px "DejaVu Sans"', align:'center', verticalAlign:'middle'}}
  ],
  grid:[
    {left:79, top:58, width:837, height:206, show:true, borderColor:'#000', borderWidth:1, outerBoundsMode:'none'},
    {left:79, top:433, width:837, height:315, show:true, borderColor:'#000', borderWidth:1, outerBoundsMode:'none'}
  ],
  xAxis:[ xAx(0,'bottom',true,'Time'), xAx(0,'top',false), xAx(1,'bottom',false), xAx(1,'top',false) ],
  yAxis:[
    yAx(0,'left',0,360,60,'Azimuth Degrees',56,12),
    yAx(0,'right',0,90,10,'Elevation Degrees',55,16),
    yAx(1,'left',-36,-28,2,'dB',56,12),
    yAx(1,'right',0,18,2,'Eb/No',56,16)
  ],
  legend:[
    Object.assign({}, legendBase, {top:139, data:['Azimuth','Elevation']}),
    Object.assign({}, legendBase, {top:568, data:[{name:'signal_level', itemStyle:{color:'#000'}}, {name:'ebno'}]})
  ],
  series:[
    line('Azimuth',0,0,azData,RED),
    line('Elevation',0,1,elData,BLUE),
    line('signal_level',2,2,signalLevel,GREEN),
    line('ebno',2,3,ebno,BLUE)
  ]
});
</script></body></html>
